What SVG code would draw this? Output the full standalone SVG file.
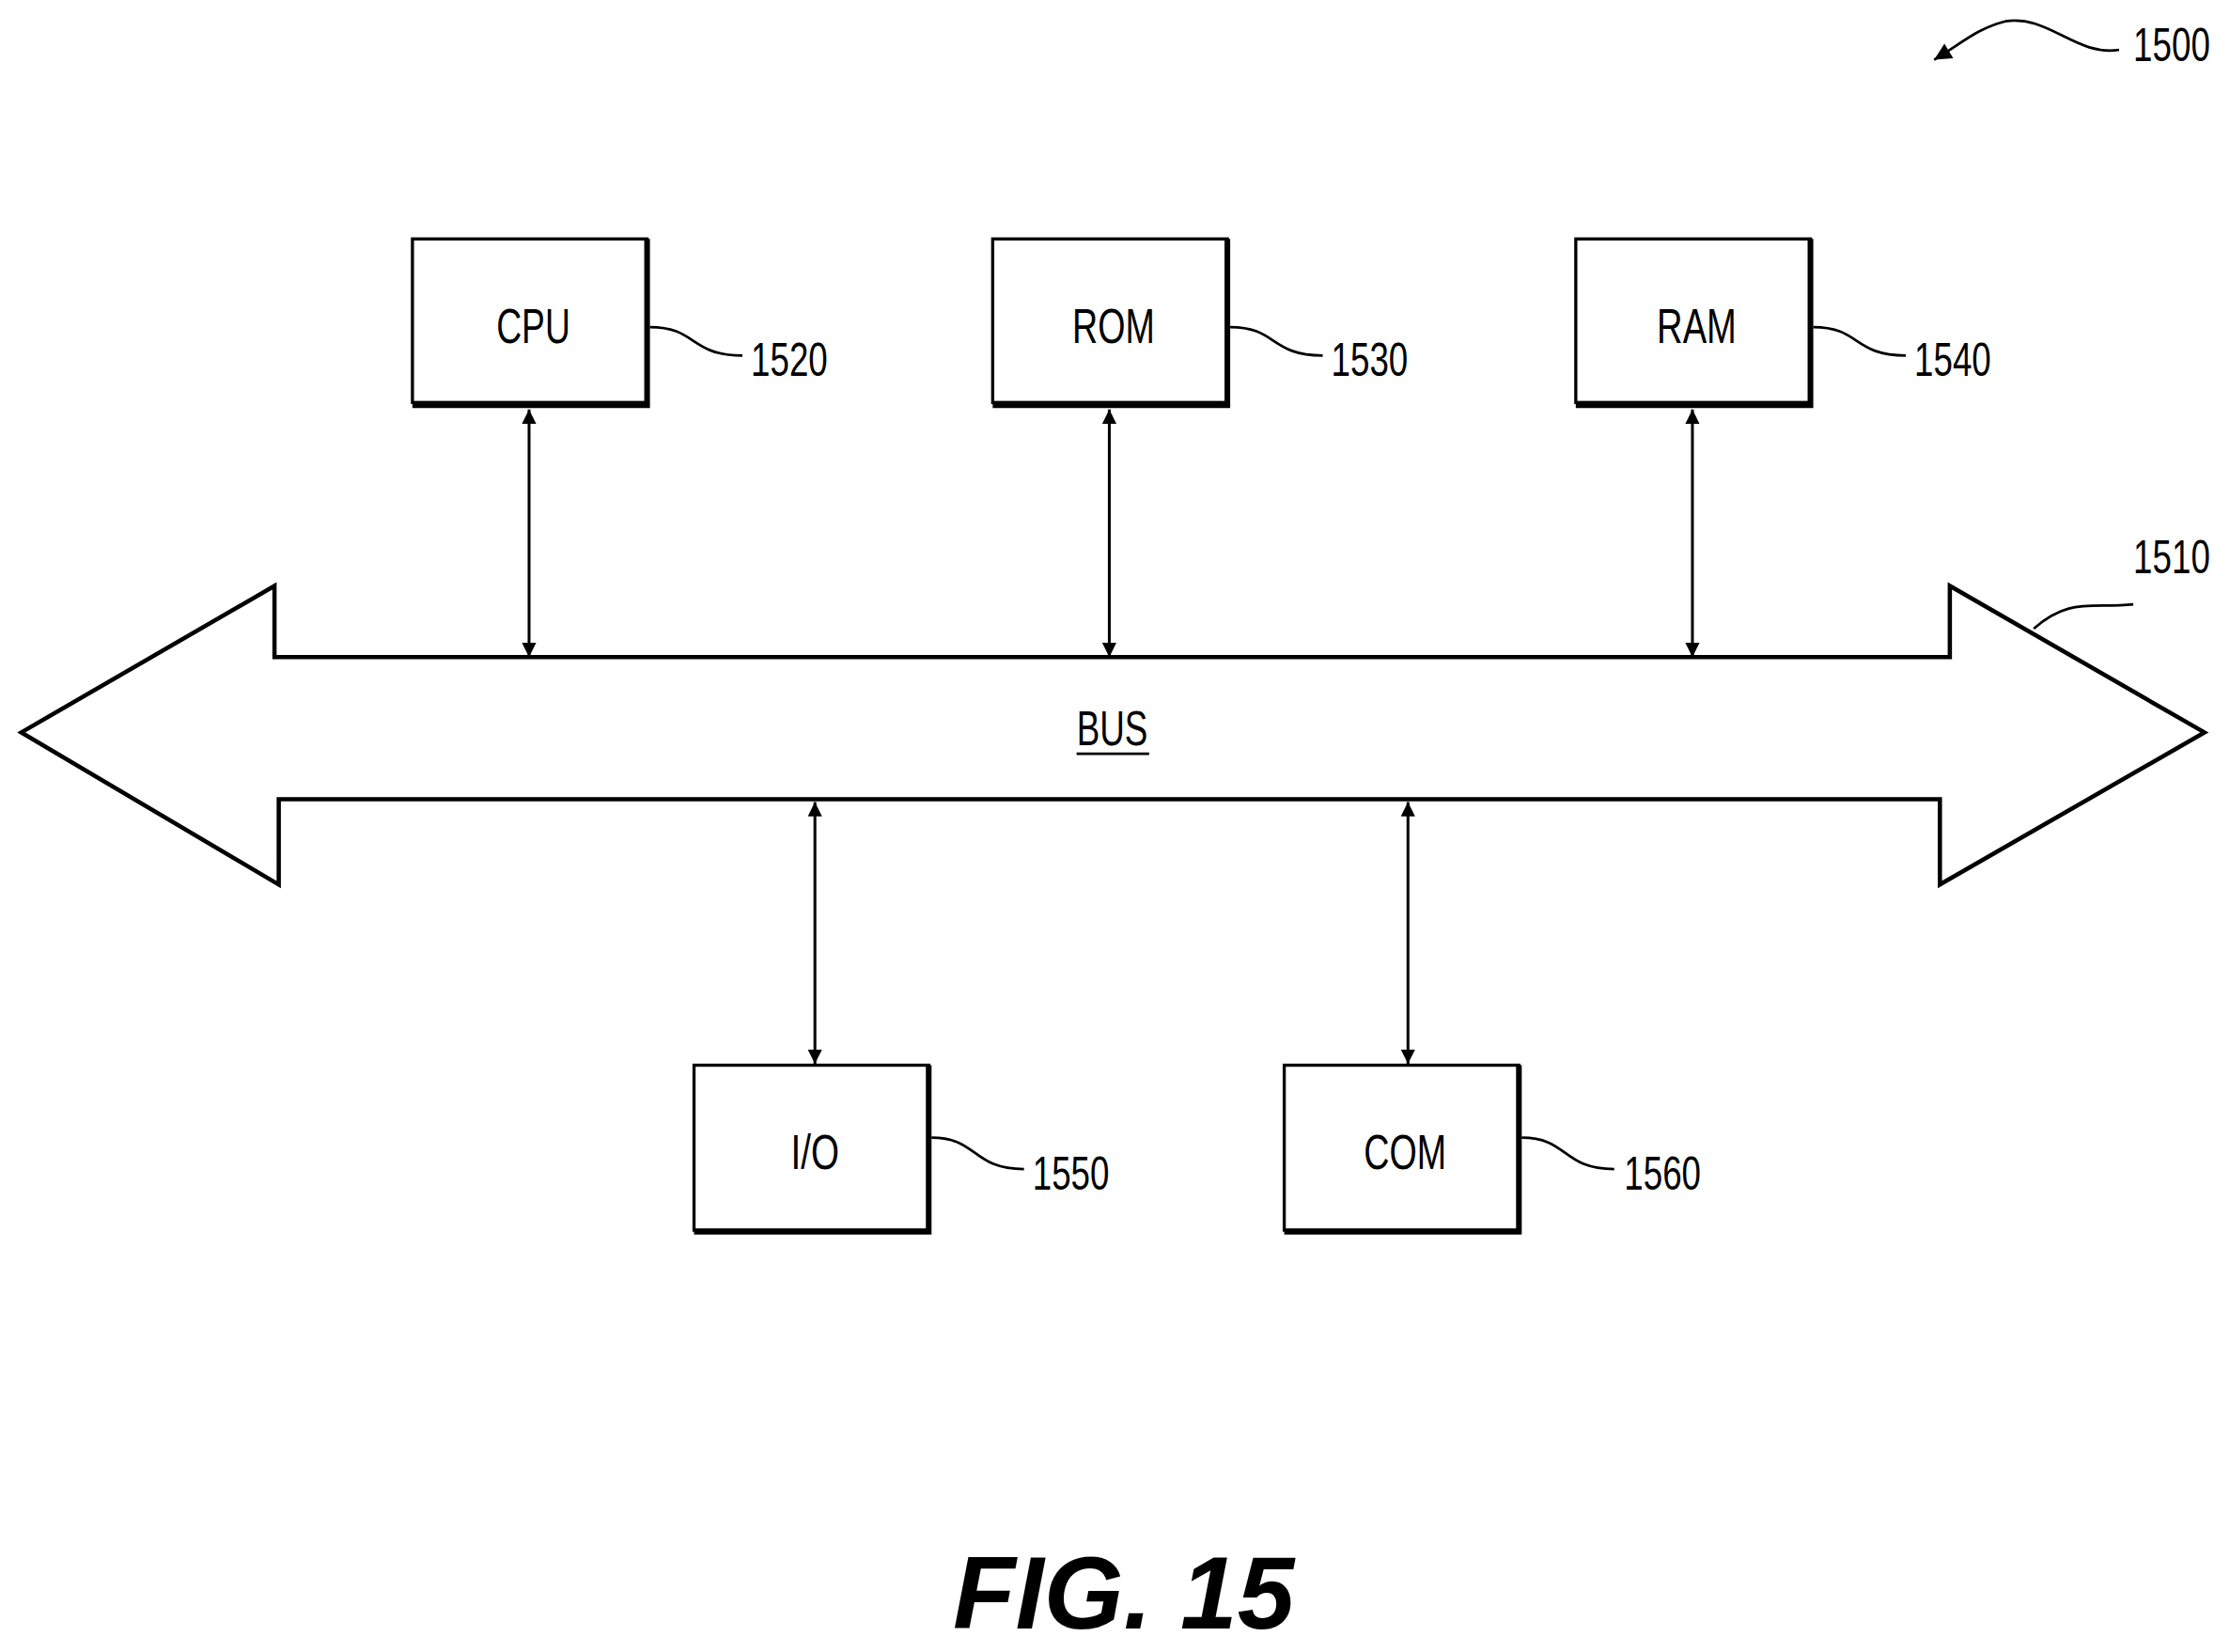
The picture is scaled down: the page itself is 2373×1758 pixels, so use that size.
<svg xmlns="http://www.w3.org/2000/svg" width="2373" height="1758" viewBox="0 0 2373 1758">
<defs>
<marker id="ah" viewBox="0 0 10 10" refX="10" refY="5" markerWidth="18" markerHeight="10" markerUnits="userSpaceOnUse" orient="auto-start-reverse"><path d="M0,0 L10,5 L0,10 z" fill="#000"/></marker>
<marker id="ah2" viewBox="0 0 10 10" refX="10" refY="5" markerWidth="16" markerHeight="12" markerUnits="userSpaceOnUse" orient="auto"><path d="M0,0 L10,5 L0,10 z" fill="#000"/></marker>
</defs>
<style>
.box{fill:#fff;stroke:#000;stroke-width:2.2}
.sh{fill:none;stroke:#000;stroke-width:4}
.t{font-family:"Liberation Sans",Arial,sans-serif;font-size:34px;text-anchor:middle;dominant-baseline:central}
.n{font-family:"Liberation Sans",Arial,sans-serif;font-size:33px;dominant-baseline:central}
.ld{fill:none;stroke:#000;stroke-width:1.8}
.cn{stroke:#000;stroke-width:2;marker-start:url(#ah);marker-end:url(#ah)}
</style>
<rect width="2373" height="1758" fill="#fff"/>
<g transform="scale(1.5134)">
<g id="bus">
<path d="M193,462 L1371,462 L1371,412 L1550,515 L1364,622 L1364,562 L196,562 L196,622 L15,515 L193,412 Z" fill="#fff" stroke="#000" stroke-width="3"/>
<text class="t" x="782" y="512" textLength="50" lengthAdjust="spacingAndGlyphs">BUS</text>
<line x1="757" y1="530" x2="808" y2="530" stroke="#000" stroke-width="1.8"/>
<path class="ld" d="M1430,442 C1455,420 1470,428 1500,425"/>
<text class="n" x="1500" y="392" textLength="54" lengthAdjust="spacingAndGlyphs">1510</text>
</g>
<g id="cpu"><rect class="box" x="290" y="168" width="165" height="115"/><path class="sh" d="M455,168 V285 H290"/><text class="t" x="375" y="229" textLength="52" lengthAdjust="spacingAndGlyphs">CPU</text><path class="ld" d="M457,230 C490,230 485,250 522,250"/><text class="n" x="528" y="253" textLength="54" lengthAdjust="spacingAndGlyphs">1520</text></g>
<g id="rom"><rect class="box" x="698" y="168" width="165" height="115"/><path class="sh" d="M863,168 V285 H698"/><text class="t" x="783" y="229" textLength="58" lengthAdjust="spacingAndGlyphs">ROM</text><path class="ld" d="M865,230 C898,230 893,250 930,250"/><text class="n" x="936" y="253" textLength="54" lengthAdjust="spacingAndGlyphs">1530</text></g>
<g id="ram"><rect class="box" x="1108" y="168" width="165" height="115"/><path class="sh" d="M1273,168 V285 H1108"/><text class="t" x="1193" y="229" textLength="56" lengthAdjust="spacingAndGlyphs">RAM</text><path class="ld" d="M1275,230 C1308,230 1303,250 1340,250"/><text class="n" x="1346" y="253" textLength="54" lengthAdjust="spacingAndGlyphs">1540</text></g>
<g id="io"><rect class="box" x="488" y="749" width="165" height="116"/><path class="sh" d="M653,749 V866 H488"/><text class="t" x="573" y="810" textLength="34" lengthAdjust="spacingAndGlyphs">I/O</text><path class="ld" d="M655,800 C688,800 683,822 720,822"/><text class="n" x="726" y="825" textLength="54" lengthAdjust="spacingAndGlyphs">1550</text></g>
<g id="com"><rect class="box" x="903" y="749" width="165" height="116"/><path class="sh" d="M1068,749 V866 H903"/><text class="t" x="988" y="810" textLength="58" lengthAdjust="spacingAndGlyphs">COM</text><path class="ld" d="M1070,800 C1103,800 1098,822 1135,822"/><text class="n" x="1142" y="825" textLength="54" lengthAdjust="spacingAndGlyphs">1560</text></g>
<g id="connectors">
<line class="cn" x1="372" y1="288" x2="372" y2="462"/>
<line class="cn" x1="780" y1="288" x2="780" y2="462"/>
<line class="cn" x1="1190" y1="288" x2="1190" y2="462"/>
<line class="cn" x1="573" y1="564" x2="573" y2="748"/>
<line class="cn" x1="990" y1="564" x2="990" y2="748"/>
</g>
<g id="ref1500">
<path class="ld" d="M1490,35 C1460,40 1440,10 1410,15 C1390,20 1380,30 1360,42" marker-end="url(#ah2)"/>
<text class="n" x="1500" y="32" textLength="54" lengthAdjust="spacingAndGlyphs">1500</text>
</g>
<text x="790" y="1120" font-family="Liberation Sans,Arial,sans-serif" font-size="72" font-weight="bold" font-style="italic" text-anchor="middle" dominant-baseline="central">FIG. 15</text>
</g>
</svg>
